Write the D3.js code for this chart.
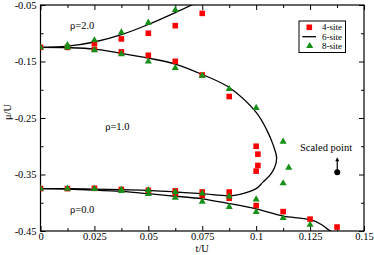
<!DOCTYPE html>
<html>
<head>
<meta charset="utf-8">
<script src="https://cdn.jsdelivr.net/npm/d3@7"></script>
<style>
  body { margin: 0; background: #fff; }
  text { font-family: "Liberation Serif", "Times New Roman", serif; fill: #000; }
</style>
</head>
<body>
<div id="chart"></div>
<script>
// ---- data ----
// tick labels
var xTicks = [0, 0.025, 0.05, 0.075, 0.1, 0.125, 0.15];
var xTickLabels = ["0", "0.025", "0.05", "0.075", "0.1", "0.125", "0.15"];
var yTicks = [-0.05, -0.15, -0.25, -0.35, -0.45];
var yTickLabels = ["-0.05", "-0.15", "-0.25", "-0.35", "-0.45"];

// 4-site (red squares)
var fourSiteT = [0, 0.0125, 0.025, 0.0375, 0.05, 0.0625, 0.075,
                 0.025, 0.0375, 0.05, 0.0625, 0.075, 0.0875,
                 0.1, 0.1008, 0.1008, 0.1,
                 0, 0.0125, 0.025, 0.0375, 0.05, 0.0625, 0.075, 0.0875,
                 0.0625, 0.075, 0.0875, 0.1, 0.1125, 0.125, 0.1375];
var fourSiteMu = [-0.125, -0.125, -0.1178, -0.110, -0.100, -0.0866, -0.0648,
                  -0.1284, -0.133, -0.139, -0.1497, -0.1739, -0.212,
                  -0.300, -0.314, -0.334, -0.344,
                  -0.375, -0.375, -0.3745, -0.3765, -0.378, -0.379, -0.381, -0.381,
                  -0.384, -0.387, -0.392, -0.405, -0.4157, -0.429, -0.443];

// 8-site (green triangles)
var eightSiteT = [0, 0.0125, 0.025, 0.0375, 0.05, 0.0625,
                  0.0125, 0.025, 0.0375, 0.05, 0.0625, 0.075, 0.0875, 0.1,
                  0.1125, 0.1151, 0.1125,
                  0, 0.0125, 0.025, 0.0375, 0.05, 0.0625, 0.075, 0.0875, 0.1,
                  0.0375, 0.05, 0.0625, 0.075, 0.0875, 0.1, 0.1125, 0.125];
var eightSiteMu = [-0.125, -0.121, -0.1125, -0.0984, -0.0813, -0.0589,
                   -0.125, -0.130, -0.137, -0.150, -0.1615, -0.175, -0.1987, -0.232,
                   -0.292, -0.338, -0.3656,
                   -0.375, -0.375, -0.3755, -0.377, -0.3775, -0.381, -0.3835, -0.389, -0.394,
                   -0.379, -0.3846, -0.391, -0.398, -0.4075, -0.4164, -0.427, -0.439];

// 6-site (black lines)
var sixUpperT = [0, 0.0125, 0.025, 0.0375, 0.05, 0.0625, 0.075];
var sixUpperMu = [-0.125, -0.1228, -0.1155, -0.1025, -0.0845, -0.0635, -0.041];
var sixLobeT = [0, 0.0125, 0.025, 0.0375, 0.05, 0.0625, 0.075, 0.0875, 0.1, 0.1049,
                0.1079, 0.1095, 0.1085, 0.1064, 0.103, 0.1002, 0.0925, 0.0875, 0.075,
                0.0625, 0.05, 0.0375, 0.025, 0.0125, 0];
var sixLobeMu = [-0.125, -0.1255, -0.128, -0.1355, -0.144, -0.1545, -0.173, -0.196, -0.240, -0.271,
                 -0.298, -0.321, -0.338, -0.351, -0.364, -0.3745, -0.385, -0.3877, -0.384,
                 -0.381, -0.378, -0.377, -0.376, -0.375, -0.375];
var sixLowerT = [0, 0.0125, 0.025, 0.0375, 0.05, 0.0625, 0.075, 0.0875, 0.1, 0.1125, 0.125, 0.13, 0.1345, 0.14];
var sixLowerMu = [-0.375, -0.3757, -0.3775, -0.380, -0.384, -0.3885, -0.393, -0.4015, -0.411, -0.4236, -0.430, -0.438, -0.45, -0.459];

var regionLabels = ["ρ=2.0", "ρ=1.0", "ρ=0.0"];
var regionT = [0.0137, 0.03, 0.0137];
var regionMu = [-0.093, -0.271, -0.4175];

var legendNames = ["4-site", "6-site", "8-site"];

// ---- layout ----
var width = 374, height = 255;
var red = "#ff0000", green = "#17901a";

var x = d3.scaleLinear().domain([0, 0.15]).range([40.5, 364]);
var y = d3.scaleLinear().domain([-0.45, -0.05]).range([231, 5]);

var svg = d3.select("#chart").append("svg")
    .attr("width", width)
    .attr("height", height);

svg.append("defs").append("clipPath")
    .attr("id", "plotClip")
  .append("rect")
    .attr("x", x(0)).attr("y", y(-0.05))
    .attr("width", x(0.15) - x(0)).attr("height", y(-0.45) - y(-0.05));

// minor tick positions
var xMinor = d3.range(0, 6).map(function(i) { return 0.0125 + i * 0.025; });
var yMinor = d3.range(0, 4).map(function(i) { return -0.1 - i * 0.1; });

function styleAxis(g) {
  g.select(".domain").remove();
  g.selectAll(".tick line").attr("stroke", "#000");
  g.selectAll(".tick text")
    .style("font-family", "'Liberation Serif', serif")
    .style("font-size", "10.5px");
}

// bottom
svg.append("g").attr("transform", "translate(0," + y(-0.45) + ")")
    .call(d3.axisBottom(x).tickValues(xTicks).tickSizeInner(-5).tickSizeOuter(0).tickPadding(1.5)
      .tickFormat(function(d, i) { return xTickLabels[i]; }))
    .call(styleAxis);
svg.append("g").attr("transform", "translate(0," + y(-0.45) + ")")
    .call(d3.axisBottom(x).tickValues(xMinor).tickSizeInner(-3).tickSizeOuter(0).tickFormat(""))
    .call(styleAxis);
// top
svg.append("g").attr("transform", "translate(0," + y(-0.05) + ")")
    .call(d3.axisTop(x).tickValues(xTicks).tickSizeInner(-5).tickSizeOuter(0).tickFormat(""))
    .call(styleAxis);
svg.append("g").attr("transform", "translate(0," + y(-0.05) + ")")
    .call(d3.axisTop(x).tickValues(xMinor).tickSizeInner(-3).tickSizeOuter(0).tickFormat(""))
    .call(styleAxis);
// left
svg.append("g").attr("transform", "translate(" + x(0) + ",0)")
    .call(d3.axisLeft(y).tickValues(yTicks).tickSizeInner(-5).tickSizeOuter(0).tickPadding(4)
      .tickFormat(function(d, i) { return yTickLabels[i]; }))
    .call(styleAxis);
svg.append("g").attr("transform", "translate(" + x(0) + ",0)")
    .call(d3.axisLeft(y).tickValues(yMinor).tickSizeInner(-3).tickSizeOuter(0).tickFormat(""))
    .call(styleAxis);
// right
svg.append("g").attr("transform", "translate(" + x(0.15) + ",0)")
    .call(d3.axisRight(y).tickValues(yTicks).tickSizeInner(-5).tickSizeOuter(0).tickFormat(""))
    .call(styleAxis);
svg.append("g").attr("transform", "translate(" + x(0.15) + ",0)")
    .call(d3.axisRight(y).tickValues(yMinor).tickSizeInner(-3).tickSizeOuter(0).tickFormat(""))
    .call(styleAxis);

// frame
svg.append("rect")
    .attr("x", x(0)).attr("y", y(-0.05))
    .attr("width", x(0.15) - x(0)).attr("height", y(-0.45) - y(-0.05))
    .attr("fill", "none").attr("stroke", "#000").attr("stroke-width", 1.2);

// axis titles
svg.append("text")
    .attr("x", x(0.075)).attr("y", 251.5)
    .attr("text-anchor", "middle")
    .style("font-size", "10.5px")
    .text("t/U");
svg.append("text")
    .attr("transform", "translate(11,112) rotate(-90)")
    .attr("text-anchor", "middle")
    .style("font-size", "10.5px")
    .text("μ/U");

// 6-site lines
var plot = svg.append("g").attr("clip-path", "url(#plotClip)");

function pairs(ts, ms) { return ts.map(function(t, i) { return [t, ms[i]]; }); }

var lineMono = d3.line()
    .x(function(d) { return x(d[0]); })
    .y(function(d) { return y(d[1]); })
    .curve(d3.curveMonotoneX);
var lineLobe = d3.line()
    .x(function(d) { return x(d[0]); })
    .y(function(d) { return y(d[1]); })
    .curve(d3.curveCatmullRom.alpha(0.5));

plot.append("path").datum(pairs(sixUpperT, sixUpperMu))
    .attr("d", lineMono).attr("fill", "none").attr("stroke", "#000").attr("stroke-width", 1.3);
plot.append("path").datum(pairs(sixLobeT, sixLobeMu))
    .attr("d", lineLobe).attr("fill", "none").attr("stroke", "#000").attr("stroke-width", 1.3);
plot.append("path").datum(pairs(sixLowerT, sixLowerMu))
    .attr("d", lineMono).attr("fill", "none").attr("stroke", "#000").attr("stroke-width", 1.3);

// 4-site squares
plot.selectAll(".sq")
    .data(pairs(fourSiteT, fourSiteMu))
  .enter().append("rect")
    .attr("class", "sq")
    .attr("x", function(d) { return x(d[0]) - 2.8; })
    .attr("y", function(d) { return y(d[1]) - 2.8; })
    .attr("width", 5.6).attr("height", 5.6)
    .attr("fill", red);

// 8-site triangles
var tri = d3.symbol().type(d3.symbolTriangle).size(22);
plot.selectAll(".tri")
    .data(pairs(eightSiteT, eightSiteMu))
  .enter().append("path")
    .attr("class", "tri")
    .attr("transform", function(d) { return "translate(" + x(d[0]) + "," + y(d[1]) + ")"; })
    .attr("d", tri)
    .attr("fill", green);

// region labels
svg.selectAll(".rho")
    .data(regionLabels)
  .enter().append("text")
    .attr("class", "rho")
    .attr("x", function(d, i) { return x(regionT[i]); })
    .attr("y", function(d, i) { return y(regionMu[i]); })
    .style("font-size", "10.5px")
    .text(function(d) { return d; });

// scaled point annotation
var spX = x(0.1376), spY = y(-0.346), spTop = y(-0.3196);
svg.append("text")
    .attr("x", x(0.1324)).attr("y", y(-0.308))
    .attr("text-anchor", "middle")
    .style("font-size", "10.5px")
    .text("Scaled point");
svg.append("line")
    .attr("x1", spX).attr("x2", spX)
    .attr("y1", spY).attr("y2", spTop + 3)
    .attr("stroke", "#000").attr("stroke-width", 1.2);
svg.append("path")
    .attr("d", "M" + spX + "," + spTop + "l-2,4h4z")
    .attr("fill", "#000");
svg.append("circle")
    .attr("cx", spX).attr("cy", spY).attr("r", 3)
    .attr("fill", "#000");

// legend
var legend = svg.append("g").attr("transform", "translate(299,21)");
legend.append("rect")
    .attr("width", 46.5).attr("height", 31.5)
    .attr("fill", "#fff").attr("stroke", "#000").attr("stroke-width", 1);
var rowY = [6.3, 15.7, 25];
legend.append("rect")
    .attr("x", 10.3 - 2.8).attr("y", rowY[0] - 2.8)
    .attr("width", 5.6).attr("height", 5.6).attr("fill", red);
legend.append("line")
    .attr("x1", 3.3).attr("x2", 17).attr("y1", rowY[1]).attr("y2", rowY[1])
    .attr("stroke", "#000").attr("stroke-width", 1.3);
legend.append("path")
    .attr("transform", "translate(10.7," + rowY[2] + ")")
    .attr("d", tri).attr("fill", green);
legend.selectAll(".lg")
    .data(legendNames)
  .enter().append("text")
    .attr("class", "lg")
    .attr("x", 23)
    .attr("y", function(d, i) { return rowY[i] + 3; })
    .style("font-size", "9px")
    .text(function(d) { return d; });
</script>
</body>
</html>
